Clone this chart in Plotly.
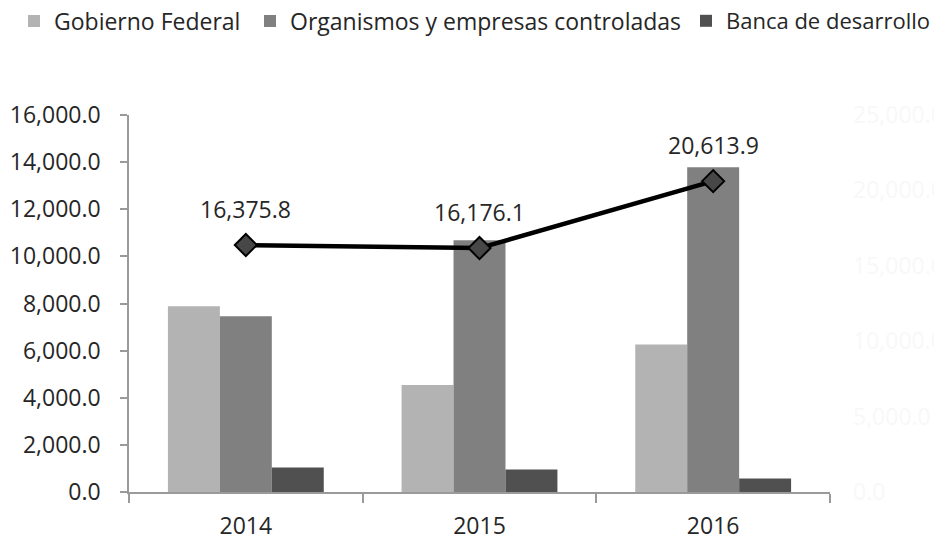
import plotly.graph_objects as go

years = [2014, 2015, 2016]
year_labels = ["2014", "2015", "2016"]
gobierno = [7880, 4540, 6260]
organismos = [7460, 10680, 13780]
banca = [1036, 956, 574]
total = [16375.8, 16176.1, 20613.9]

FONT = "Open Sans"
TXT = "#262626"
FS = 23
W, H = 934, 529  # page body has an 8px margin

bounds = [y - 0.5 for y in years] + [years[-1] + 0.5]

fig = go.Figure()
fig.add_trace(go.Bar(x=years, y=gobierno, name="Gobierno Federal", legend="legend",
                     marker=dict(color="#b3b3b3", line=dict(width=0))))
fig.add_trace(go.Bar(x=years, y=organismos, name="Organismos y empresas controladas", legend="legend2",
                     marker=dict(color="#808080", line=dict(width=0))))
fig.add_trace(go.Bar(x=years, y=banca, name="Banca de desarrollo", legend="legend3",
                     marker=dict(color="#505050", line=dict(width=0))))
fig.add_trace(go.Scatter(x=years, y=total, yaxis="y2", mode="lines+markers", showlegend=False,
                         line=dict(color="black", width=4.5),
                         marker=dict(symbol="diamond", size=17, color="#474747",
                                     line=dict(color="black", width=2))))

for yr, v in zip(years, total):
    fig.add_annotation(x=yr, y=v, xref="x", yref="y2", text=f"{v:,.1f}", showarrow=False,
                       yshift=36, font=dict(family=FONT, size=FS, color=TXT))

def leg(xpx, size=FS):
    return dict(orientation="h", xref="container", yref="container", x=xpx / W, y=1 - 13 / H,
                xanchor="left", yanchor="middle", font=dict(size=size, color=TXT),
                bgcolor="rgba(0,0,0,0)")

fig.update_layout(
    width=W, height=H,
    margin=dict(l=121, r=112, t=107, b=45, autoexpand=False),
    paper_bgcolor="white", plot_bgcolor="white",
    barmode="group", bargap=0.333, bargroupgap=0,
    font=dict(family=FONT, size=FS, color=TXT),
    showlegend=True,
    legend=leg(6), legend2=leg(242), legend3=leg(678, 22),
    xaxis=dict(type="linear", range=[bounds[0], bounds[-1]], tickvals=years, ticktext=year_labels,
               showline=True, linecolor="#9a9a9a", linewidth=1.5, ticks="", showgrid=False,
               zeroline=False, ticklabelstandoff=13,
               minor=dict(tickvals=bounds, ticks="outside", ticklen=9, tickcolor="#9a9a9a",
                          tickwidth=1.5, showgrid=False)),
    yaxis=dict(range=[0, 16000], dtick=2000, tickformat=",.1f", showline=True,
               linecolor="#9a9a9a", linewidth=1.5, ticks="outside", ticklen=7, tickwidth=1.5,
               tickcolor="#9a9a9a", showgrid=False, zeroline=False, ticklabelstandoff=15),
    yaxis2=dict(range=[0, 25000], dtick=5000, tickformat=",.1f", overlaying="y", side="right",
                showline=False, showgrid=False, zeroline=False, ticks="",
                ticklabelstandoff=22, tickfont=dict(color="#f8f8f8")),
)

fig.write_html("out.html")
